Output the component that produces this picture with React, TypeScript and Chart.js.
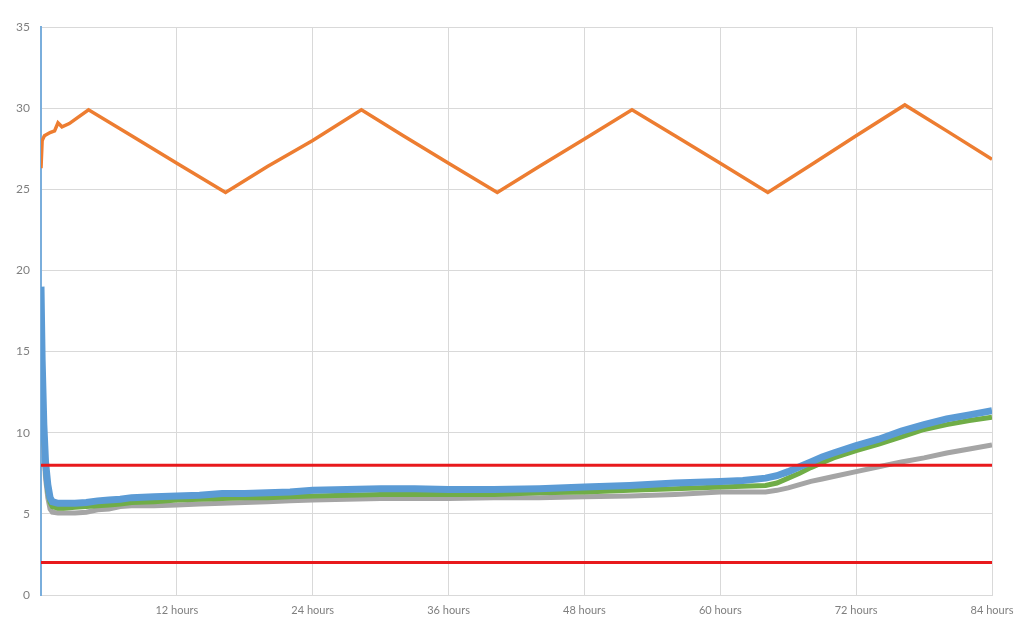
import React, { useEffect, useRef } from 'react';
import { Chart, registerables } from 'chart.js';

Chart.register(...registerables);

// Orange series (cycling temperature)
const orangeHours = [0, 0.1, 0.3, 0.8, 1.2, 1.5, 1.85, 2.5, 3.2, 4.2, 8, 12, 16.3, 20, 24, 28.3, 32, 36, 40.3, 44, 48, 52.2, 56, 60, 64.2, 68, 72, 76.3, 80, 84];
const orangeValues = [26.3, 28.0, 28.3, 28.5, 28.6, 29.1, 28.85, 29.05, 29.4, 29.9, 28.3, 26.6, 24.8, 26.4, 28.0, 29.9, 28.3, 26.6, 24.8, 26.4, 28.1, 29.9, 28.3, 26.6, 24.8, 26.5, 28.3, 30.2, 28.6, 26.85];

// Three lower series share the same sample times
const lowHours = [0, 0.1, 0.25, 0.4, 0.6, 0.8, 1, 1.5, 2, 3, 4, 5, 6, 7, 8, 10, 12, 14, 16, 18, 20, 22, 24, 27, 30, 33, 36, 40, 44, 48, 52, 56, 60, 62, 64, 65, 66, 67, 68, 69, 70, 72, 74, 76, 78, 80, 82, 84];
const blueValues = [19.0, 14.5, 10.5, 8.2, 6.8, 6.0, 5.75, 5.65, 5.65, 5.65, 5.7, 5.8, 5.85, 5.9, 6.0, 6.05, 6.1, 6.15, 6.25, 6.25, 6.3, 6.35, 6.45, 6.5, 6.55, 6.55, 6.5, 6.5, 6.55, 6.65, 6.75, 6.9, 7.0, 7.05, 7.2, 7.35, 7.6, 7.9, 8.2, 8.5, 8.75, 9.2, 9.6, 10.1, 10.5, 10.85, 11.1, 11.35];
const greenValues = [18.0, 13.5, 9.8, 7.8, 6.4, 5.7, 5.45, 5.35, 5.35, 5.4, 5.45, 5.5, 5.55, 5.6, 5.7, 5.75, 5.85, 5.9, 5.95, 6.0, 6.0, 6.05, 6.1, 6.15, 6.2, 6.2, 6.2, 6.2, 6.3, 6.35, 6.45, 6.55, 6.65, 6.7, 6.75, 6.9, 7.2, 7.5, 7.85, 8.15, 8.45, 8.9, 9.3, 9.75, 10.2, 10.5, 10.75, 10.95];
const grayValues = [17.0, 12.5, 9.0, 7.2, 6.0, 5.3, 5.1, 5.05, 5.05, 5.05, 5.1, 5.25, 5.3, 5.45, 5.5, 5.5, 5.55, 5.6, 5.65, 5.7, 5.75, 5.8, 5.85, 5.9, 5.95, 5.95, 5.95, 6.0, 6.0, 6.05, 6.1, 6.2, 6.35, 6.35, 6.35, 6.45, 6.6, 6.8, 7.0, 7.15, 7.3, 7.6, 7.9, 8.2, 8.45, 8.75, 9.0, 9.25];

// Limit lines
const limitHours = [0, 84];
const upperLimit = [8, 8];
const lowerLimit = [2, 2];

const toPoints = (xs: number[], ys: number[]) => xs.map((x, i) => ({ x, y: ys[i] }));

const App: React.FC = () => {
  const chartRef = useRef<HTMLCanvasElement>(null);
  const chartInstance = useRef<Chart | null>(null);

  useEffect(() => {
    if (!chartRef.current) return;
    if (chartInstance.current) chartInstance.current.destroy();

    const line = (data: { x: number; y: number }[], color: string, width: number, order: number) => ({
      data,
      borderColor: color,
      backgroundColor: color,
      borderWidth: width,
      pointRadius: 0,
      tension: 0,
      order,
    });

    const ctx = chartRef.current.getContext('2d');
    if (ctx) {
      chartInstance.current = new Chart(ctx, {
        type: 'line',
        data: {
          datasets: [
            line(toPoints(limitHours, upperLimit), '#e8191c', 3, 0),
            line(toPoints(limitHours, lowerLimit), '#e8191c', 3, 0),
            line(toPoints(orangeHours, orangeValues), '#ed7d31', 3.5, 1),
            line(toPoints(lowHours, blueValues), '#5b9bd5', 7, 2),
            line(toPoints(lowHours, greenValues), '#70ad47', 5, 3),
            line(toPoints(lowHours, grayValues), '#a5a5a5', 5, 4),
          ],
        },
        options: {
          responsive: true,
          maintainAspectRatio: false,
          animation: false,
          layout: { padding: { top: 27, right: 38, bottom: 0, left: 0 } },
          plugins: {
            legend: { display: false },
            tooltip: { enabled: false },
          },
          scales: {
            x: {
              type: 'linear',
              min: 0,
              max: 84,
              afterFit: (scale) => {
                scale.height = 40;
              },
              grid: { color: '#d9d9d9', drawTicks: false },
              border: { color: '#d9d9d9' },
              ticks: {
                stepSize: 12,
                padding: 9,
                color: '#7f7f7f',
                font: { family: 'Lato', size: 11 },
                maxRotation: 0,
                callback: (v) => (Number(v) === 0 ? '' : `${v} hours`),
              },
            },
            y: {
              min: 0,
              max: 35,
              afterFit: (scale) => {
                scale.width = 41;
              },
              grid: { color: '#d9d9d9', drawTicks: false },
              border: { color: '#7aaedc', width: 2 },
              ticks: {
                stepSize: 5,
                padding: 11,
                color: '#7f7f7f',
                font: { family: 'Lato', size: 12 },
              },
            },
          },
        },
      });
    }

    return () => {
      if (chartInstance.current) {
        chartInstance.current.destroy();
        chartInstance.current = null;
      }
    };
  }, []);

  return (
    <div style={{ position: 'fixed', left: 0, top: 0, width: 1030, height: 635, background: '#fff' }}>
      <canvas ref={chartRef}></canvas>
    </div>
  );
};

export default App;
